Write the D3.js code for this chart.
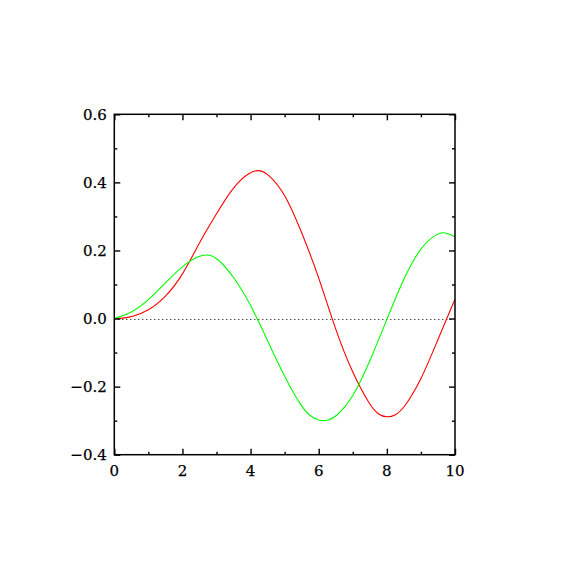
<!DOCTYPE html>
<html>
<head>
<meta charset="utf-8">
<script src="https://cdn.jsdelivr.net/npm/d3@7"></script>
<style>
  body { margin: 0; background: #fff; }
  text { font-family: "DejaVu Serif", serif; font-size: 15px; fill: #000; stroke: #000; stroke-width: 0.25px; }
</style>
</head>
<body>
<div id="chart"></div>
<script>
// values
var redX   = [0, 0.25, 0.5, 1, 1.5, 2, 2.5, 3, 3.5, 4, 4.25, 4.5, 5, 5.5, 6, 6.5, 7, 7.5, 7.75, 8, 8.25, 8.5, 9, 9.5, 10];
var redY   = [0, 0.001, 0.004, 0.022, 0.062, 0.125, 0.225, 0.308, 0.390, 0.432, 0.437, 0.427, 0.371, 0.254, 0.124, -0.037, -0.163, -0.255, -0.283, -0.291, -0.285, -0.264, -0.183, -0.061, 0.057];
var greenX = [0, 0.5, 1, 1.5, 2, 2.5, 2.75, 3, 3.5, 4, 4.5, 5, 5.5, 5.75, 6, 6.25, 6.5, 7, 7.5, 8, 8.5, 9, 9.5, 9.7, 10];
var greenY = [0, 0.016, 0.053, 0.105, 0.155, 0.186, 0.188, 0.181, 0.125, 0.042, -0.065, -0.173, -0.261, -0.287, -0.300, -0.301, -0.290, -0.235, -0.127, -0.002, 0.120, 0.213, 0.252, 0.254, 0.240];
var xTicks = [0, 2, 4, 6, 8, 10];
var xMinor = [1, 3, 5, 7, 9];
var yTicks = [-0.4, -0.2, 0.0, 0.2, 0.4, 0.6];
var yMinor = [-0.3, -0.1, 0.1, 0.3, 0.5];

var width = 570, height = 570;
var margin = {top: 114.3, right: 115, bottom: 115.3, left: 114.3};

var svg = d3.select("#chart")
    .append("svg")
        .attr("width", width)
        .attr("height", height);

var x = d3.scaleLinear().domain([0, 10]).range([margin.left, width - margin.right]);
var y = d3.scaleLinear().domain([-0.4, 0.6]).range([height - margin.bottom, margin.top]);

svg.append("clipPath").attr("id", "clip")
    .append("rect")
    .attr("x", x(0)).attr("y", y(0.6))
    .attr("width", x(10) - x(0)).attr("height", y(-0.4) - y(0.6));

// dotted zero line
svg.append("line")
    .attr("x1", x(0)).attr("x2", x(10))
    .attr("y1", Math.round(y(0)) + 0.5).attr("y2", Math.round(y(0)) + 0.5)
    .attr("stroke", "#000")
    .attr("stroke-width", 1)
    .attr("stroke-dasharray", "1,3");

var line = d3.line()
    .x(function (d) {return x(d[0]);})
    .y(function (d) {return y(d[1]);})
    .curve(d3.curveBasis);

svg.append("path")
    .datum(d3.zip(redX, redY))
    .attr("clip-path", "url(#clip)")
    .attr("d", line)
    .attr("fill", "none")
    .attr("stroke", "#ff0000")
    .attr("stroke-width", 1.1);

svg.append("path")
    .datum(d3.zip(greenX, greenY))
    .attr("clip-path", "url(#clip)")
    .attr("d", line)
    .attr("fill", "none")
    .attr("stroke", "#00ff00")
    .attr("stroke-width", 1.1);

// inward ticks on all four sides, major and minor
function ticks(axis, scale, pos) {
    var minor = scale === x ? xMinor : yMinor,
        major = scale === x ? xTicks : yTicks;
    [[minor, 3], [major, 6]].forEach(function (t) {
        svg.append("g")
            .attr("transform", "translate(" + pos[0] + "," + pos[1] + ")")
            .call(axis(scale).tickValues(t[0]).tickSize(t[1]).tickFormat(""))
            .call(function (s) {s.select(".domain").remove();})
            .selectAll(".tick line").attr("stroke-width", 1.4);
    });
}

ticks(d3.axisTop, x, [0, y(-0.4)]);
ticks(d3.axisBottom, x, [0, y(0.6)]);
ticks(d3.axisRight, y, [x(0), 0]);
ticks(d3.axisLeft, y, [x(10), 0]);

// frame
svg.append("rect")
    .attr("x", x(0)).attr("y", y(0.6))
    .attr("width", x(10) - x(0)).attr("height", y(-0.4) - y(0.6))
    .attr("fill", "none")
    .attr("stroke", "#000")
    .attr("stroke-width", 1.5);

// tick labels
var fmt = function (d) {return d3.format(".1f")(d).replace("-", "\u2212");};

svg.selectAll(".xlab")
    .data(xTicks)
    .enter()
    .append("text")
    .attr("x", function (d) {return x(d);})
    .attr("y", 476)
    .attr("text-anchor", "middle")
    .text(function (d) {return d;});

svg.selectAll(".ylab")
    .data(yTicks)
    .enter()
    .append("text")
    .attr("x", x(0) - 7.5)
    .attr("y", function (d) {return y(d) + 5.5;})
    .attr("text-anchor", "end")
    .text(fmt);
</script>
</body>
</html>
